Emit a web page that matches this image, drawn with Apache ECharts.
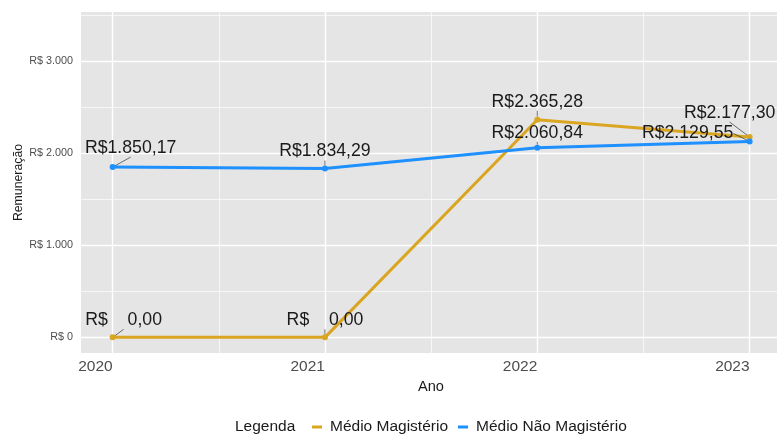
<!DOCTYPE html>
<html>
<head>
<meta charset="utf-8">
<script src="https://cdn.jsdelivr.net/npm/echarts@6/dist/echarts.min.js"></script>
<style>
  html, body { margin: 0; padding: 0; background: #fff; }
  #chart { width: 777px; height: 435px; }
</style>
</head>
<body>
<div id="chart"></div>
<script>
const years = [2020, 2021, 2022, 2023]
const medioMagisterio = [0, 0, 2365.28, 2177.30]
const medioNaoMagisterio = [1850.17, 1834.29, 2060.84, 2129.55]
const yTicks = [0, 1000, 2000, 3000]
const yMinorTicks = [500, 1500, 2500, 3500]
const xMinorTicks = [2020.5, 2021.5, 2022.5]

// label offsets (px from the point), like the repelled labels
const magOffsets = [[11, -17], [0, -17], [0, -18], [-20, -24]]
const naoOffsets = [[18, -19], [0, -17], [0, -15], [-62, -8]]

const FONT = 'Liberation Sans, Arial, sans-serif'
const GOLD = '#DAA520'
const BLUE = '#1E90FF'

function brl(v) {
  const parts = v.toFixed(2).split('.')
  const int = parts[0].replace(/\B(?=(\d{3})+(?!\d))/g, '.')
  return (int + ',' + parts[1]).padStart(8, ' ')
}

function makeData(vals, offsets) {
  return years.map((y, i) => ({ value: [y, vals[i]], label: { offset: offsets[i] } }))
}

// panel is cut at the right edge of the picture
const xBase = { type: 'value', min: 2019.851, max: 2023.129, gridIndex: 0 }
const yBase = { type: 'value', min: -170, max: 3536, gridIndex: 0 }

const c = echarts.init(document.getElementById('chart'), null, { renderer: 'canvas' })
c.setOption({
  animation: false,
  textStyle: { fontFamily: FONT },
  grid: { left: 81, top: 12, right: 0, height: 341, outerBoundsMode: 'none',
    show: true, backgroundColor: '#E5E5E5', borderWidth: 0 },
  legend: {
    data: ['Médio Magistério', 'Médio Não Magistério'],
    left: 307, top: 414,
    icon: 'rect', itemWidth: 10, itemHeight: 3, itemGap: 10,
    textStyle: { fontSize: 15.5, color: '#1a1a1a', fontFamily: FONT, padding: [0, 0, 0, 3] }
  },
  graphic: [{
    type: 'text', left: 235, top: 419,
    style: { text: 'Legenda', fontSize: 15.5, fill: '#1a1a1a', fontFamily: FONT }
  }],
  xAxis: [
    Object.assign({}, xBase, {
      name: 'Ano', nameLocation: 'middle', nameGap: 20,
      nameTextStyle: { fontSize: 14.6, color: '#1a1a1a', padding: [0, 0, 0, 4] },
      axisLine: { show: false },
      axisTick: { show: false, customValues: years },
      axisLabel: { customValues: years, align: 'right', margin: 6, fontSize: 15.5, color: '#4d4d4d', formatter: v => String(v) },
      splitLine: { show: true, lineStyle: { color: '#fff', width: 1.4 } }
    }),
    Object.assign({}, xBase, {
      show: true,
      axisLine: { show: false },
      axisTick: { show: false, customValues: xMinorTicks },
      axisLabel: { show: false, customValues: xMinorTicks },
      splitLine: { show: true, lineStyle: { color: '#fff', width: 0.7 } }
    })
  ],
  yAxis: [
    Object.assign({}, yBase, {
      name: 'Remuneração', nameLocation: 'middle', nameGap: 56, nameRotate: 90, nameMoveOverlap: false,
      nameTextStyle: { fontSize: 12.3, color: '#1a1a1a' },
      axisLine: { show: false },
      axisTick: { show: false, customValues: yTicks },
      axisLabel: { customValues: yTicks, margin: 8, fontSize: 10.8, color: '#4d4d4d',
        formatter: v => 'R$ ' + String(v).replace(/\B(?=(\d{3})+(?!\d))/g, '.') },
      splitLine: { show: true, lineStyle: { color: '#fff', width: 1.4 } }
    }),
    Object.assign({}, yBase, {
      axisLine: { show: false },
      axisTick: { show: false, customValues: yMinorTicks },
      axisLabel: { show: false, customValues: yMinorTicks },
      splitLine: { show: true, lineStyle: { color: '#fff', width: 0.7 } }
    })
  ],
  series: [
    {
      name: 'Médio Magistério', type: 'line',
      data: makeData(medioMagisterio, magOffsets),
      symbol: 'circle', symbolSize: 6, showAllSymbol: true,
      lineStyle: { width: 3, color: GOLD }, itemStyle: { color: GOLD },
      label: { show: true, position: 'inside', fontSize: 17.7, color: '#1a1a1a', fontFamily: FONT,
        formatter: p => 'R$' + brl(p.value[1]) },
      labelLine: { show: true, lineStyle: { color: '#333', width: 0.7 } },
      z: 2
    },
    {
      name: 'Médio Não Magistério', type: 'line',
      data: makeData(medioNaoMagisterio, naoOffsets),
      symbol: 'circle', symbolSize: 6, showAllSymbol: true,
      lineStyle: { width: 3, color: BLUE }, itemStyle: { color: BLUE },
      label: { show: true, position: 'inside', fontSize: 17.7, color: '#1a1a1a', fontFamily: FONT,
        formatter: p => 'R$' + brl(p.value[1]) },
      labelLine: { show: true, lineStyle: { color: '#333', width: 0.7 } },
      z: 3
    }
  ]
})
window.addEventListener('resize', () => c.resize())
</script>
</body>
</html>
